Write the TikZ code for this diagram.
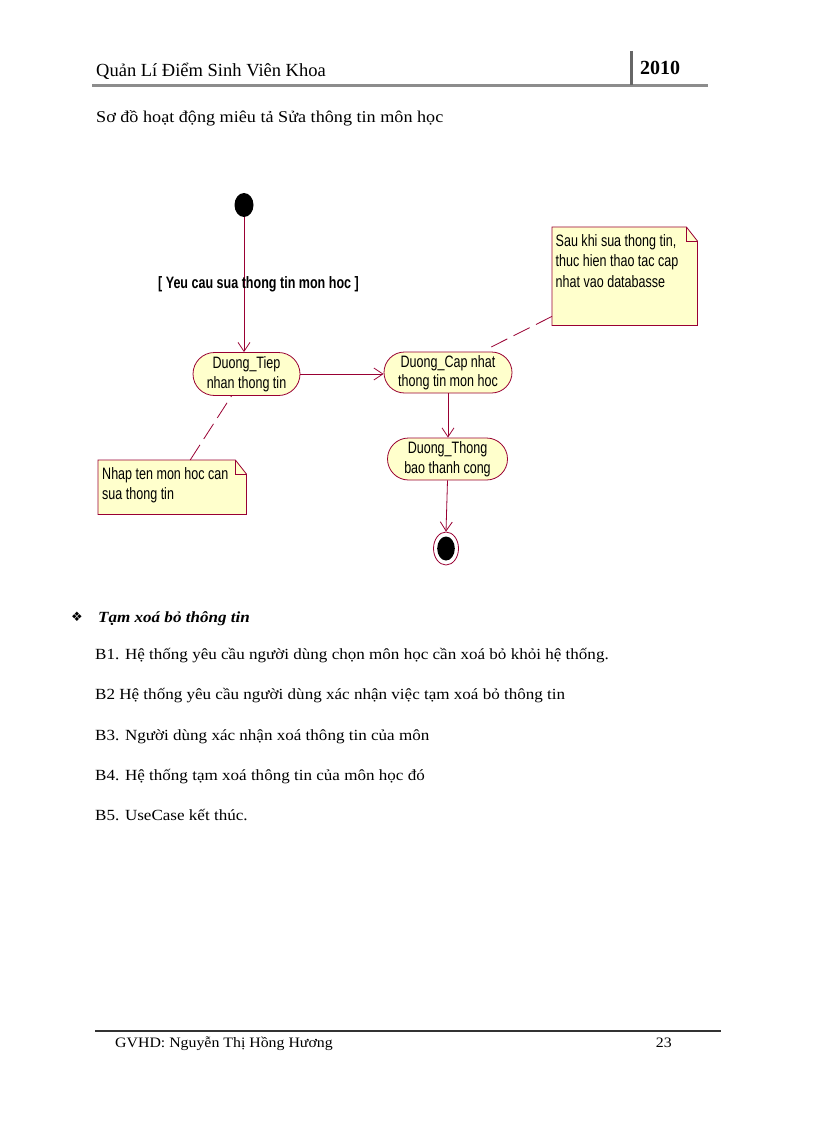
\documentclass[tikz,border=0pt]{standalone}
\usepackage{fontspec}
\setmainfont{Liberation Serif}
\newfontfamily\umlfont[FakeStretch=0.76]{Liberation Sans}
\newfontfamily\pagefont[FakeStretch=1.1]{Liberation Serif}
\newfontfamily\symfont{DejaVu Sans}
\usetikzlibrary{positioning, shapes.geometric, shapes.misc, arrows.meta, backgrounds}
\definecolor{umlred}{RGB}{153,0,51}
\definecolor{umlfill}{RGB}{255,255,204}
\definecolor{rulegray}{RGB}{140,140,140}

\begin{document}
\begin{tikzpicture}[x=1pt, y=-1pt,
    activity/.style={rounded rectangle, draw=umlred, fill=umlfill, align=center, inner sep=0pt, line width=0.8pt, font=\umlfont\fontsize{16.5}{19.5}\selectfont},
    memo/.style={anchor=north west, align=flush left, inner ysep=0pt, text height=19pt, font=\umlfont\fontsize{16.5}{20.5}\selectfont},
    memoline/.style={draw=umlred, fill=umlfill, line width=0.8pt},
    guard/.style={text=black, font=\umlfont\bfseries\fontsize{16.5}{19}\selectfont},
    startnode/.style={ellipse, fill=black, minimum width=19pt, minimum height=24pt, inner sep=0pt},
    finishnode/.style={ellipse, draw=umlred, fill=white, minimum width=25pt, minimum height=33pt, inner sep=0pt, line width=0.8pt,
      path picture={\fill[black] (path picture bounding box.center) ellipse (8.8pt and 12pt);}},
    flow/.style={->, umlred, line width=0.8pt},
    link/.style={umlred, line width=0.8pt, dash pattern=on 18pt off 7pt},
    pagetext/.style={anchor=base west, inner sep=0pt, font=\pagefont\fontsize{15.5}{18}\selectfont},
    >={Straight Barb[length=9pt, width=12pt]}]
  \useasboundingbox (0,0) rectangle (816,1123);
  \begin{pgfonlayer}{background}
    \fill[white] (0,0) rectangle (816,1123);
  \end{pgfonlayer}

  % page header
  \node[anchor=base west, inner sep=0pt, font=\fontsize{18.5}{22}\selectfont] (title) at (96,76.5) {Quản Lí Điểm Sinh Viên Khoa};
  \node[anchor=base west, inner sep=0pt, font=\bfseries\fontsize{20}{24}\selectfont] (year) at (640,75) {2010};
  \draw[rulegray, line width=3pt] (92,86) -- (708,86);
  \draw[gray!80!black, line width=3pt] (631,51) -- (631,85);
  \node[anchor=base west, inner sep=0pt, font=\pagefont\fontsize{16.5}{20}\selectfont] (caption) at (96,123) {Sơ đồ hoạt động miêu tả Sửa thông tin môn học};

  % activity diagram
  \node[startnode] (start) at (244,205) {};
  \node[activity, minimum width=107pt, minimum height=43pt] (tiep) at (246.5,374) {Duong\_Tiep\\ nhan thong tin};
  \node[activity, minimum width=128pt, minimum height=41pt] (capnhat) at (448,372.5) {Duong\_Cap nhat\\ thong tin mon hoc};
  \node[activity, minimum width=120pt, minimum height=42pt] (thongbao) at (447.5,459) {Duong\_Thong\\ bao thanh cong};
  \node[finishnode] (finish) at (446,548.5) {};
  \node[memo, text width=140pt, inner xsep=4pt, text depth=35pt] (nhap) at (98,460) {Nhap ten mon hoc can\\ sua thong tin};
  \node[memo, text width=138pt, inner xsep=3.5pt, text depth=79pt] (sau) at (552,227) {Sau khi sua thong tin,\\ thuc hien thao tac cap\\ nhat vao databasse};
  \begin{pgfonlayer}{background}
    \draw[memoline] (nhap.north west) -- ([xshift=-11pt]nhap.north east) -- ([yshift=-14pt]nhap.north east) -- (nhap.south east) -- (nhap.south west) -- cycle;
    \draw[memoline] (sau.north west) -- ([xshift=-11pt]sau.north east) -- ([yshift=-14pt]sau.north east) -- (sau.south east) -- (sau.south west) -- cycle;
  \end{pgfonlayer}
  \draw[umlred, line width=0.8pt] ([xshift=-11pt]nhap.north east) |- ([yshift=-14pt]nhap.north east);
  \draw[umlred, line width=0.8pt] ([xshift=-11pt]sau.north east) |- ([yshift=-14pt]sau.north east);

  \draw[flow] (start.south) -- node[guard, pos=0.5, xshift=14.5pt] {[ Yeu cau sua thong tin mon hoc ]} (start.south |- tiep.north);
  \draw[flow] (tiep.east) -- (tiep.east -| capnhat.west);
  \draw[flow] (capnhat.south) -- (capnhat.south |- thongbao.north);
  \draw[flow] (thongbao.south) -- (finish.north);
  \draw[link] ([xshift=18pt]nhap.north) -- ([xshift=-15pt]tiep.south);
  \draw[link] ([yshift=9pt]sau.south west) -- ([xshift=42pt, yshift=4pt]capnhat.north);

  % steps below the diagram
  \node[inner sep=0pt, font=\symfont\fontsize{13}{15}\selectfont] (bullet) at (77,617) {❖};
  \node[pagetext, font=\pagefont\bfseries\itshape\fontsize{15.5}{18}\selectfont] (tam) at (98,622) {Tạm xoá bỏ thông tin};
  \node[pagetext] (b1) at (95,659) {B1. Hệ thống yêu cầu người dùng chọn môn học cần xoá bỏ khỏi hệ thống.};
  \node[pagetext] (b2) at (95,699) {B2 Hệ thống yêu cầu người dùng xác nhận việc tạm xoá bỏ thông tin};
  \node[pagetext] (b3) at (95,740) {B3. Người dùng xác nhận xoá thông tin của môn};
  \node[pagetext] (b4) at (95,780) {B4. Hệ thống tạm xoá thông tin của môn học đó};
  \node[pagetext] (b5) at (95,820) {B5. UseCase kết thúc.};

  % page footer
  \draw[gray!40!black, line width=2pt] (95,1031) -- (721,1031);
  \node[pagetext, font=\pagefont\fontsize{14.4}{17}\selectfont] (gvhd) at (115,1047) {GVHD: Nguyễn Thị Hồng Hương};
  \node[pagetext, anchor=base east, font=\pagefont\fontsize{14.4}{17}\selectfont] (page) at (672,1047) {23};
\end{tikzpicture}
\end{document}
